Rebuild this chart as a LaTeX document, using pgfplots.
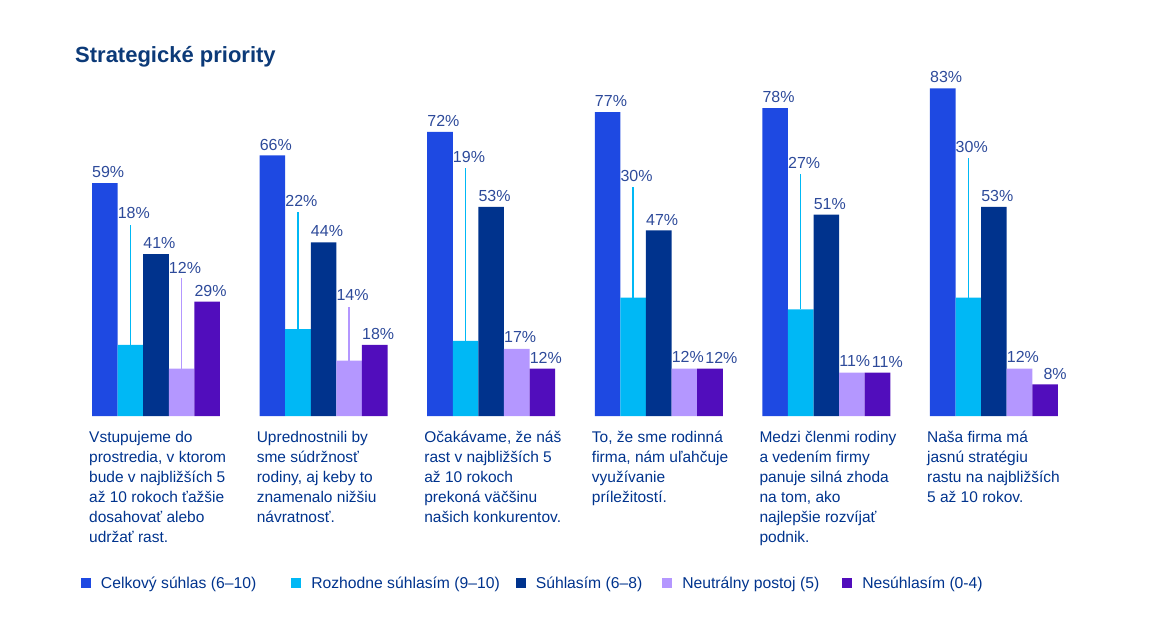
\documentclass[border=0pt]{standalone}
\usepackage{pgfplots}
\usepackage{pgfplotstable}
\usepackage{fontspec}
\setmainfont{Liberation Sans}
\pgfplotsset{compat=1.18}
\definecolor{cBlue}{HTML}{1E49E2}
\definecolor{cCyan}{HTML}{00B8F5}
\definecolor{cDark}{HTML}{00338D}
\definecolor{cLav}{HTML}{B497FF}
\definecolor{cPurp}{HTML}{510DBC}
\definecolor{cNavy}{HTML}{00338D}
\definecolor{cTitle}{HTML}{0C3A78}
\definecolor{cVal}{HTML}{2D4A9A}
\pgfplotstableread{
x celk rozh suhl neut nesu lyc lyn pdx
0 59 18 41 12 29 51.3 37.4 0
1 66 22 44 14 18 54.5 30.6 0
2 72 19 53 17 12 65.6 19.9 0
3 77 30 47 12 12 60.8 14.9 0.048
4 78 27 51 11 11 64.2 13.9 0.042
5 83 30 53 12 8 68.1 14.9 0.066
}\data
\begin{document}
\begin{tikzpicture}
\path[use as bounding box] (0,0) rectangle (1152pt,638pt);
\node[anchor=base west, inner sep=0pt, text=cTitle, font=\fontsize{22}{26}\selectfont\bfseries] at (75pt,575pt) {Strategické priority};
\begin{axis}[
  at={(72.2pt,222pt)}, anchor=south west,
  scale only axis, width=1005.6pt, height=355.3pt,
  xmin=-0.5, xmax=5.5, ymin=0, ymax=90,
  clip=false,
  axis line style={draw=none},
  tick style={draw=none},
  major tick length=0pt,
  ytick=\empty,
  xtick={0,1,2,3,4,5},
  xticklabels={
    {\rule{0pt}{12pt}Vstupujeme do\\prostredia, v ktorom\\bude v najbližších 5\\až 10 rokoch ťažšie\\dosahovať alebo\\udržať rast.},
    {\rule{0pt}{12pt}Uprednostnili by\\sme súdržnosť\\rodiny, aj keby to\\znamenalo nižšiu\\návratnosť.},
    {\rule{0pt}{12pt}Očakávame, že náš\\rast v najbližších 5\\až 10 rokoch\\prekoná väčšinu\\našich konkurentov.},
    {\rule{0pt}{12pt}To, že sme rodinná\\firma, nám uľahčuje\\využívanie\\príležitostí.},
    {\rule{0pt}{12pt}Medzi členmi rodiny\\a vedením firmy\\panuje silná zhoda\\na tom, ako\\najlepšie rozvíjať\\podnik.},
    {\rule{0pt}{12pt}Naša firma má\\jasnú stratégiu\\rastu na najbližších\\5 až 10 rokov.}
  },
  xticklabel style={anchor=north west, align=left, inner sep=0pt, xshift=-67pt, yshift=-14pt,
    font=\fontsize{15.5}{20}\selectfont, text=cNavy},
  /pgf/number format/assume math mode=true,
  legend image code/.code={\fill[#1] (0pt,-5pt) rectangle (10pt,5pt);},
  legend style={at={(0.00875,-0.4714)}, anchor=west, draw=none, fill=none,
    inner sep=0pt, outer sep=0pt, legend columns=5,
    font=\fontsize{15.7}{19}\selectfont, text=cNavy,
    nodes={inner sep=0pt},
    /tikz/every odd column/.append style={column sep=10pt},
    /tikz/every even column/.append style={column sep=20pt}},
  legend cell align=left,
  vallab/.style={draw=none, mark=none, forget plot,
    nodes near coords={\pgfmathprintnumber{\pgfplotspointmeta}\%},
    nodes near coords style={anchor=west, inner sep=0pt, text=cVal, font=\fontsize{16}{18}\selectfont}},
  leaderline/.style={draw=#1, color=#1, line width=1.4pt, mark=none, forget plot},
]
% bars
\addplot[ybar, bar width=0.15274, bar shift=0pt, fill=cBlue, draw=none, forget plot] table[x expr=\thisrow{x}-0.30548, y=celk] {\data};
\addplot[ybar, bar width=0.15274, bar shift=0pt, fill=cCyan, draw=none, forget plot] table[x expr=\thisrow{x}-0.15274, y=rozh] {\data};
\addplot[ybar, bar width=0.15274, bar shift=0pt, fill=cDark, draw=none, forget plot] table[x expr=\thisrow{x}, y=suhl] {\data};
\addplot[ybar, bar width=0.15274, bar shift=0pt, fill=cLav, draw=none, forget plot] table[x expr=\thisrow{x}+0.15274, y=neut] {\data};
\addplot[ybar, bar width=0.15274, bar shift=0pt, fill=cPurp, draw=none, forget plot] table[x expr=\thisrow{x}+0.30548, y=nesu] {\data};
% leader lines (from bar top up to below the raised label)
\addplot[leaderline=cCyan] coordinates {(-0.15274,18) (-0.15274,48.4)};
\addplot[leaderline=cCyan] coordinates {(0.84726,22) (0.84726,51.7)};
\addplot[leaderline=cCyan] coordinates {(1.84726,19) (1.84726,62.7)};
\addplot[leaderline=cCyan] coordinates {(2.84726,30) (2.84726,57.9)};
\addplot[leaderline=cCyan] coordinates {(3.84726,27) (3.84726,61.3)};
\addplot[leaderline=cCyan] coordinates {(4.84726,30) (4.84726,65.4)};
\addplot[leaderline=cLav] coordinates {(0.15274,12) (0.15274,34.9)};
\addplot[leaderline=cLav] coordinates {(1.15274,14) (1.15274,27.7)};
% value labels (left edge at bar's left edge)
\addplot[vallab, point meta=\thisrow{celk}] table[x expr=\thisrow{x}-0.38185, y expr=\thisrow{celk}+2.75] {\data};
\addplot[vallab, point meta=\thisrow{rozh}] table[x expr=\thisrow{x}-0.22911, y=lyc] {\data};
\addplot[vallab, point meta=\thisrow{suhl}] table[x expr=\thisrow{x}-0.07637, y expr=\thisrow{suhl}+2.75] {\data};
\addplot[vallab, point meta=\thisrow{neut}] table[x expr=\thisrow{x}+0.07637, y=lyn] {\data};
\addplot[vallab, point meta=\thisrow{nesu}] table[x expr=\thisrow{x}+0.22911+\thisrow{pdx}, y expr=\thisrow{nesu}+2.75] {\data};
% legend
\addlegendimage{fill=cBlue, draw=none}
\addlegendentry{Celkový súhlas (6–10)\rule{15pt}{0pt}}
\addlegendimage{fill=cCyan, draw=none}
\addlegendentry{Rozhodne súhlasím (9–10)\kern-4pt}
\addlegendimage{fill=cDark, draw=none}
\addlegendentry{Súhlasím (6–8)}
\addlegendimage{fill=cLav, draw=none}
\addlegendentry{Neutrálny postoj (5)\rule{3pt}{0pt}}
\addlegendimage{fill=cPurp, draw=none}
\addlegendentry{Nesúhlasím (0-4)}
\end{axis}
\end{tikzpicture}
\end{document}
